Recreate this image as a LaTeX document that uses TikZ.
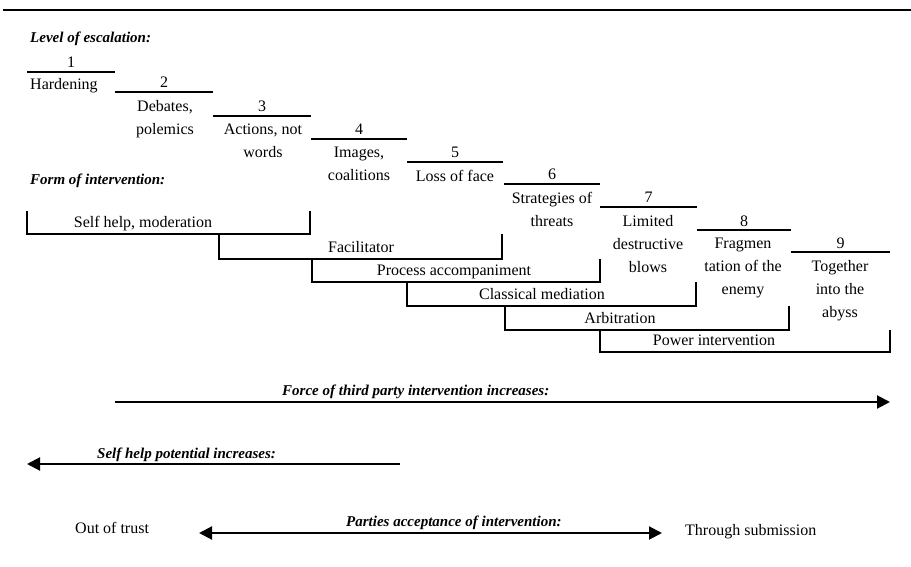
\documentclass[tikz,border=0pt]{standalone}
\usepackage{fontspec}
\setmainfont{Liberation Serif}
\usetikzlibrary{arrows.meta}
\begin{document}
\begin{tikzpicture}[x=1pt,y=-1pt,
  stepline/.style={line width=2.5pt},
  bracket/.style={line width=2pt},
  rule/.style={line width=2pt},
  num/.style={font=\fontsize{16}{23}\selectfont, inner sep=0pt, anchor=base},
  lbl/.style={font=\fontsize{16}{23}\selectfont, inner sep=0pt, align=center, anchor=north},
  blbl/.style={font=\fontsize{16}{23}\selectfont, inner sep=0pt, anchor=base},
  head/.style={font=\fontsize{15}{18}\selectfont\bfseries\itshape, inner sep=0pt, anchor=base},
  plain/.style={font=\fontsize{16}{23}\selectfont, inner sep=0pt, anchor=base west},
  arr/.style={line width=2pt, -{Triangle[length=13pt,width=13pt]}},
  darr/.style={line width=2pt, {Triangle[length=13pt,width=13pt]}-{Triangle[length=13pt,width=13pt]}},
]
\useasboundingbox (0,0) rectangle (911,567);

% top rule
\coordinate (r1) at (3,10);
\coordinate (r2) at (911,10);
\draw[rule] (r1) -- (r2);

% headings
\node[head, anchor=base west] (hlevel) at (30,43) {Level of escalation:};
\node[head, anchor=base west] (hform) at (30,185) {Form of intervention:};

% escalation steps
\foreach \i/\xs/\xe/\y in {1/27/115/72, 2/115/213/92, 3/213/311/116, 4/311/407/139,
    5/407/503/162, 6/504/600/184, 7/600/697/207, 8/697/791/230, 9/791/890/252}{
  \draw[stepline] (\xs,\y) coordinate (s\i a) -- (\xe,\y) coordinate (s\i b);
  \node[num] (n\i) at ({(\xs+\xe)/2},\y-4) {\i};
}

\node[plain] (t1) at (30,90) {Hardening};
\node[lbl] (t2) at (165,100) {Debates,\\polemics};
\node[lbl] (t3) at (263,124) {Actions, not\\words};
\node[lbl] (t4) at (359,147) {Images,\\coalitions};
\node[lbl] (t5) at (455,170) {Loss of face};
\node[lbl] (t6) at (552,192) {Strategies of\\threats};
\node[lbl] (t7) at (648,215) {Limited\\destructive\\blows};
\node[lbl] (t8) at (743,238) {Fragmen\\tation of the\\enemy};
\node[lbl] (t9) at (840,260) {Together\\into the\\abyss};

% intervention brackets
\draw[bracket] (27,211) -- (27,234) -- (310,234) -- (310,211);
\node[blbl] (f1) at (143,227) {Self help, moderation};
\draw[bracket] (219,234) -- (219,259) -- (502,259) -- (502,234);
\node[blbl] (f2) at (361,252) {Facilitator};
\draw[bracket] (312,259) -- (312,282) -- (600,282) -- (600,259);
\node[blbl] (f3) at (454,275) {Process accompaniment};
\draw[bracket] (407,282) -- (407,306) -- (696,306) -- (696,282);
\node[blbl] (f4) at (542,299) {Classical mediation};
\draw[bracket] (505,306) -- (505,330) -- (789,330) -- (789,306);
\node[blbl] (f5) at (620,323) {Arbitration};
\draw[bracket] (600,330) -- (600,352) -- (890,352) -- (890,330);
\node[blbl] (f6) at (714,345) {Power intervention};

% arrows
\node[head, anchor=base west] (lforce) at (282,395) {Force of third party intervention increases:};
\coordinate (fa) at (115,402);
\coordinate (fb) at (890,402);
\draw[arr] (fa) -- (fb);

\node[head, anchor=base west] (lself) at (97,458) {Self help potential increases:};
\coordinate (sa) at (400,464);
\coordinate (sb) at (27,464);
\draw[arr] (sa) -- (sb);

\node[head, anchor=base west] (lpart) at (346,526) {Parties acceptance of intervention:};
\coordinate (pa) at (199,533);
\coordinate (pb) at (662,533);
\draw[darr] (pa) -- (pb);

\node[plain] (otrust) at (75,533) {Out of trust};
\node[plain] (tsub) at (685,535) {Through submission};
\end{tikzpicture}
\end{document}
